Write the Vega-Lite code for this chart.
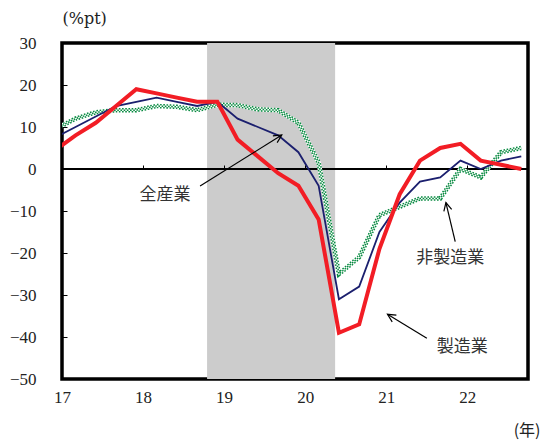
{
  "$schema": "https://vega.github.io/schema/vega-lite/v6.json",
  "width": 466,
  "height": 336,
  "autosize": "none",
  "padding": {"left": 62, "top": 43, "right": 13, "bottom": 62},
  "background": "white",
  "config": {
    "view": {"stroke": "black", "strokeWidth": 3.5},
    "axis": {"grid": false, "labelFont": "Liberation Serif", "titleFont": "Liberation Serif"}
  },
  "datasets": {
    "di": [
      {"t": 16.917, "all": 7.5, "mfg": 4.5, "nonmfg": 9.5},
      {"t": 17.167, "all": 10, "mfg": 8, "nonmfg": 12},
      {"t": 17.417, "all": 12.5, "mfg": 11, "nonmfg": 13.5},
      {"t": 17.667, "all": 15, "mfg": 15, "nonmfg": 14},
      {"t": 17.917, "all": 16, "mfg": 19, "nonmfg": 14},
      {"t": 18.167, "all": 17, "mfg": 18, "nonmfg": 15},
      {"t": 18.417, "all": 16, "mfg": 17, "nonmfg": 14.8},
      {"t": 18.667, "all": 15, "mfg": 16, "nonmfg": 14},
      {"t": 18.917, "all": 16, "mfg": 16, "nonmfg": 15.3},
      {"t": 19.167, "all": 12, "mfg": 7, "nonmfg": 15.2},
      {"t": 19.417, "all": 10, "mfg": 3, "nonmfg": 14.2},
      {"t": 19.667, "all": 8, "mfg": -1, "nonmfg": 14},
      {"t": 19.917, "all": 4, "mfg": -4, "nonmfg": 11},
      {"t": 20.167, "all": -4, "mfg": -12, "nonmfg": 1.5},
      {"t": 20.417, "all": -31, "mfg": -39, "nonmfg": -25},
      {"t": 20.667, "all": -28, "mfg": -37, "nonmfg": -21},
      {"t": 20.917, "all": -15, "mfg": -19, "nonmfg": -11},
      {"t": 21.167, "all": -8, "mfg": -6, "nonmfg": -9},
      {"t": 21.417, "all": -3, "mfg": 2, "nonmfg": -7},
      {"t": 21.667, "all": -2, "mfg": 5, "nonmfg": -7},
      {"t": 21.917, "all": 2, "mfg": 6, "nonmfg": 0},
      {"t": 22.167, "all": 0, "mfg": 2, "nonmfg": -2},
      {"t": 22.417, "all": 2, "mfg": 1, "nonmfg": 4},
      {"t": 22.667, "all": 3, "mfg": 0, "nonmfg": 5}
    ],
    "shade": [{"start": 18.79, "end": 20.37}],
    "arrows": [
      {"name": "全産業", "x1": 18.704, "y1": -4.05, "x2": 19.712, "y2": 8.1, "angle": 57.7},
      {"name": "非製造業", "x1": 21.852, "y1": -17.3, "x2": 21.737, "y2": -8.0, "angle": -13.4},
      {"name": "製造業", "x1": 21.502, "y1": -40.3, "x2": 21.016, "y2": -34.6, "angle": -58.6}
    ],
    "labels": [
      {"label": "全産業", "lx": 18.27, "ly": -6.2},
      {"label": "非製造業", "lx": 21.79, "ly": -21.2},
      {"label": "製造業", "lx": 21.94, "ly": -42.4}
    ]
  },
  "resolve": {"axis": {"x": "independent", "y": "independent"}},
  "layer": [
    {
      "data": {"name": "shade"},
      "mark": {"type": "rect", "color": "#cccccc"},
      "encoding": {
        "x": {
          "field": "start", "type": "quantitative",
          "scale": {"domain": [17, 22.75], "nice": false, "zero": false},
          "axis": {
            "orient": "bottom", "values": [17, 18, 19, 20, 21, 22], "format": "d",
            "ticks": false, "tickSize": 0, "domain": false, "labelPadding": 10, "labelFlush": false,
            "labelFont": "Liberation Serif", "labelFontSize": 17, "labelColor": "#222",
            "title": "(年)", "titleX": 478, "titleY": 51, "titleAlign": "right",
            "titleBaseline": "middle", "titleFont": "Noto Sans CJK JP", "titleFontSize": 16,
            "titleFontWeight": "normal", "titleColor": "#222"
          }
        },
        "x2": {"field": "end"}
      }
    },
    {
      "data": {"name": "di"},
      "mark": {"type": "rule", "color": "black", "strokeWidth": 1},
      "encoding": {"y": {"datum": 0, "type": "quantitative", "axis": null}}
    },
    {
      "data": {"name": "di"},
      "mark": {"type": "line", "color": "white", "strokeWidth": 4.5, "clip": true},
      "encoding": {
        "x": {"field": "t", "type": "quantitative", "axis": null},
        "y": {"field": "nonmfg", "type": "quantitative", "axis": null}
      }
    },
    {
      "data": {"name": "di"},
      "mark": {"type": "line", "color": "#078a40", "strokeWidth": 4.5, "strokeDash": [1.6, 1.6], "clip": true},
      "encoding": {
        "x": {"field": "t", "type": "quantitative", "axis": null},
        "y": {"field": "nonmfg", "type": "quantitative", "axis": null}
      }
    },
    {
      "data": {"name": "di"},
      "mark": {"type": "line", "color": "white", "strokeWidth": 1.5, "clip": true},
      "encoding": {
        "x": {"field": "t", "type": "quantitative", "axis": null},
        "y": {"field": "nonmfg", "type": "quantitative", "axis": null}
      }
    },
    {
      "data": {"name": "di"},
      "mark": {"type": "line", "color": "#078a40", "strokeWidth": 1.5, "strokeDash": [1.6, 1.6], "strokeDashOffset": 1.6, "clip": true},
      "encoding": {
        "x": {"field": "t", "type": "quantitative", "axis": null},
        "y": {"field": "nonmfg", "type": "quantitative", "axis": null}
      }
    },
    {
      "data": {"name": "di"},
      "mark": {"type": "line", "color": "#1b1f6e", "strokeWidth": 1.8, "clip": true},
      "encoding": {
        "x": {
          "field": "t", "type": "quantitative",
          "axis": {
            "orient": "top", "offset": -126, "values": [18, 19, 20, 21, 22],
            "labels": false, "domain": false, "ticks": true, "tickSize": 4,
            "tickColor": "black", "tickWidth": 1, "title": null, "zindex": 1
          }
        },
        "y": {
          "field": "all", "type": "quantitative",
          "scale": {"domain": [-50, 30], "nice": false, "zero": false},
          "axis": {
            "orient": "left", "values": [-50, -40, -30, -20, -10, 0, 10, 20, 30],
            "ticks": false, "tickSize": 0, "domain": false, "labelPadding": 26, "labelFlush": false,
            "labelFont": "Liberation Serif", "labelFontSize": 17, "labelColor": "#222",
            "title": "(%pt)", "titleAngle": 0, "titleX": 0, "titleY": -25,
            "titleAlign": "left", "titleBaseline": "middle",
            "titleFont": "DejaVu Serif", "titleFontSize": 16, "titleFontWeight": "normal",
            "titleColor": "#222"
          }
        }
      }
    },
    {
      "data": {"name": "di"},
      "mark": {"type": "line", "color": "#f21d25", "strokeWidth": 4, "clip": true},
      "encoding": {
        "x": {"field": "t", "type": "quantitative", "axis": null},
        "y": {"field": "mfg", "type": "quantitative", "axis": null}
      }
    },
    {
      "data": {"name": "arrows"},
      "mark": {"type": "rule", "color": "black", "strokeWidth": 1.2},
      "encoding": {
        "x": {"field": "x1", "type": "quantitative", "axis": null},
        "y": {
          "field": "y1", "type": "quantitative",
          "axis": {
            "orient": "right", "offset": -466, "values": [-50, -40, -30, -20, -10, 0, 10, 20, 30],
            "labels": false, "domain": false, "ticks": true, "tickSize": 5,
            "tickColor": "black", "tickWidth": 1, "title": null, "zindex": 1
          }
        },
        "x2": {"field": "x2"},
        "y2": {"field": "y2"}
      }
    },
    {
      "data": {"name": "arrows"},
      "mark": {"type": "point", "shape": "M-0.5,1L0,0L0.5,1", "filled": false, "stroke": "black", "strokeWidth": 1.2, "size": 256, "opacity": 1},
      "encoding": {
        "x": {"field": "x2", "type": "quantitative", "axis": null},
        "y": {"field": "y2", "type": "quantitative", "axis": null},
        "angle": {"field": "angle", "type": "quantitative", "scale": null}
      }
    },
    {
      "data": {"name": "labels"},
      "mark": {"type": "text", "font": "Noto Sans CJK JP", "fontSize": 17, "color": "#333", "align": "center", "baseline": "middle"},
      "encoding": {
        "x": {"field": "lx", "type": "quantitative", "axis": null},
        "y": {"field": "ly", "type": "quantitative", "axis": null},
        "text": {"field": "label"}
      }
    }
  ]
}
